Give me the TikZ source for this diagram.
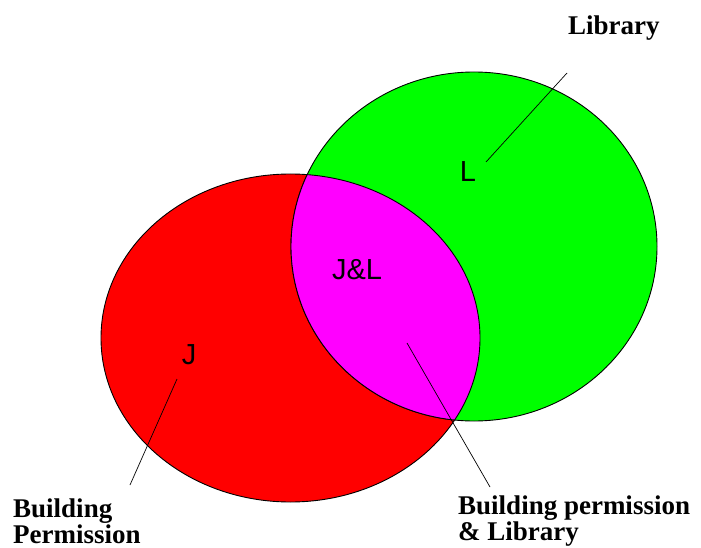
\documentclass[tikz,border=0pt]{standalone}
\usepackage{fontspec}
\setmainfont{Liberation Serif}
\newfontfamily\setsans{Liberation Sans}
\definecolor{myred}{RGB}{255,0,0}
\definecolor{mygreen}{RGB}{0,255,0}
\definecolor{mymagenta}{RGB}{255,0,255}
\usetikzlibrary{positioning}

\begin{document}
\begin{tikzpicture}[x=1pt,y=-1pt,
    setnode/.style={font=\setsans\fontsize{29}{29}\selectfont,inner sep=0pt},
    namenode/.style={font=\bfseries\fontsize{27}{26}\selectfont,align=left,inner sep=0pt,anchor=base west},
    leader/.style={line width=0.7pt},
    rim/.style={line width=0.9pt}
    ]
    \useasboundingbox (0,0) rectangle (701,548);

    % the centres
    \coordinate (cJ) at (290.5,338);
    \coordinate (cL) at (474,246.5);

    % the set J
    \filldraw[fill=myred,draw=black,rim] (cJ) ellipse [x radius=189.5, y radius=164];
    % the set L
    \filldraw[fill=mygreen,draw=black,rim] (cL) ellipse [x radius=183, y radius=174.5];
    % the set J&L
    \begin{scope}
    \clip (cJ) ellipse [x radius=189.5, y radius=164];
    \filldraw[fill=mymagenta,draw=black,rim] (cL) ellipse [x radius=183, y radius=174.5];
    \end{scope}
    \begin{scope}
    \clip (cL) ellipse [x radius=183, y radius=174.5];
    \draw[rim] (cJ) ellipse [x radius=189.5, y radius=164];
    \end{scope}

    % the set names
    \node[setnode] (L) at (468,172) {L};
    \node[setnode] (JL) at (357,270) {J\&L};
    \node[setnode] (J) at (189,355) {J};

    % the labels (base is the last line)
    \node[namenode] (lib) at (568,35) {Library};
    \node[namenode] (bp) at (13,543) {Building\\Permission};
    \node[namenode] (bpl) at (458,540) {Building permission\\\& Library};

    % the leaders
    \coordinate (lib-a) at (567,73);
    \coordinate (lib-b) at (486,162);
    \coordinate (bp-a) at (130,485);
    \coordinate (bp-b) at (177,379);
    \coordinate (bpl-a) at (490,487);
    \coordinate (bpl-b) at (407,343);
    \draw[leader] (lib-a) -- (lib-b);
    \draw[leader] (bp-a) -- (bp-b);
    \draw[leader] (bpl-a) -- (bpl-b);
\end{tikzpicture}
\end{document}
